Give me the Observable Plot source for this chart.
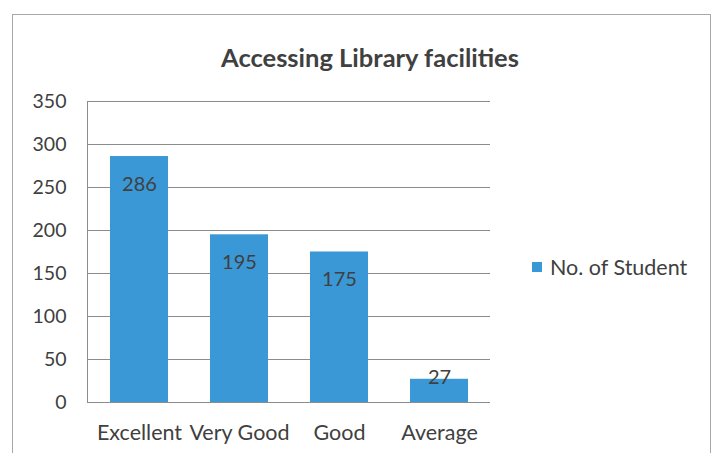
<!DOCTYPE html>
<html><head><meta charset="utf-8">
<script src="https://cdn.jsdelivr.net/npm/d3@7"></script>
<script src="https://cdn.jsdelivr.net/npm/@observablehq/plot@0.6"></script>
<style>
body{margin:0;background:#fff;font-family:Lato,"Open Sans",sans-serif;}
#wrap{position:relative;width:720px;height:453px;overflow:hidden;}
#border{position:absolute;left:12px;top:14px;width:699px;height:460px;border:1px solid #a8a8a8;box-sizing:border-box;}
#title{position:absolute;left:0;width:740px;top:42px;text-align:center;font-size:25.5px;font-weight:bold;color:#404040;}
#chart{position:absolute;left:0;top:80px;}
#legend{position:absolute;left:532px;top:254px;font-size:21.5px;color:#404040;display:flex;align-items:center;gap:8px;}
#legend span.sw{display:inline-block;width:10px;height:10px;background:#3a98d6;}
</style></head>
<body><div id="wrap"><div id="border"></div><div id="title">Accessing Library facilities</div><div id="chart"></div>
<div id="legend"><span class="sw"></span><span>No. of Student</span></div></div>
<script>
const categories = ["Excellent", "Very Good", "Good", "Average"];
const values = [286, 195, 175, 27];
const yTicks = [0, 50, 100, 150, 200, 250, 300, 350];
const data = categories.map((c, i) => ({category: c, value: values[i]}));
const color = "#3a98d6";
const chart = Plot.plot({
  width: 720, height: 373,
  marginLeft: 87, marginRight: 230, marginTop: 21, marginBottom: 51,
  style: {fontFamily: "Lato, 'Open Sans', sans-serif", fontSize: "19px", color: "#404040", background: "transparent"},
  x: {domain: categories, paddingInner: 0.42, paddingOuter: 0.21, label: null},
  y: {domain: [0, 350], ticks: yTicks, label: null},
  marks: [
    Plot.gridY(yTicks, {stroke: "#8c8c8c", strokeOpacity: 1}),
    Plot.barY(data, {x: "category", y: "value", fill: color}),
    Plot.frame({anchor: "left", stroke: "#8c8c8c"}),
    Plot.ruleY([0], {stroke: "#8c8c8c"}),
    Plot.text(data.filter(d => d.value > 50), {x: "category", y: "value", text: d => String(d.value), dy: 28, fill: "#404040", fontSize: 20}),
    Plot.text(data.filter(d => d.value <= 50), {x: "category", y: "value", text: d => String(d.value), dy: -2, fill: "#404040", fontSize: 20}),
    Plot.axisY(yTicks, {tickSize: 0, tickPadding: 21, fontSize: 19.5, fill: "#404040"}),
    Plot.axisX({tickSize: 0, tickPadding: 22, fontSize: 21.5, fill: "#404040"})
  ]
});
document.getElementById("chart").appendChild(chart);
</script></body></html>
